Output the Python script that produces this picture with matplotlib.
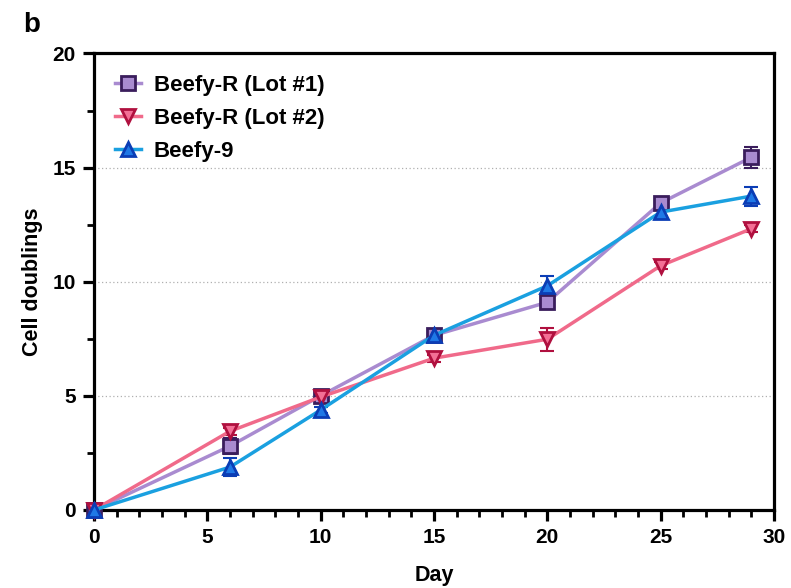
import numpy as np
import matplotlib.pyplot as plt
from matplotlib.ticker import MultipleLocator

plt.rcParams['font.family'] = ['Liberation Sans', 'DejaVu Sans']
plt.rcParams['font.weight'] = 'bold'

# dane
dni = [0, 6, 10, 15, 20, 25, 29]
lot1 = [0, 2.8, 5.0, 7.65, 9.1, 13.45, 15.45]
lot1_err = [0, 0.35, 0.1, 0.15, 0.3, 0.15, 0.45]
lot2 = [0, 3.45, 4.95, 6.65, 7.48, 10.7, 12.32]
lot2_err = [0, 0.15, 0.1, 0.15, 0.5, 0.15, 0.15]
beefy9 = [0, 1.88, 4.38, 7.65, 9.82, 13.05, 13.75]
beefy9_err = [0, 0.4, 0.15, 0.15, 0.45, 0.15, 0.42]

fig = plt.figure(figsize=(7.91, 5.88), dpi=100)
ax = fig.add_axes([0.1188, 0.1327, 0.8597, 0.7764])

serie = [
    ('Beefy-R (Lot #1)', lot1, lot1_err, 's', '#a98bd0', '#a98bd0', '#3a1d5c'),
    ('Beefy-R (Lot #2)', lot2, lot2_err, 'v', '#f06a8a', '#f36f95', '#b0103f'),
    ('Beefy-9', beefy9, beefy9_err, '^', '#1aa0e0', '#1f78e6', '#0b3db5'),
]

for nazwa, y, err, m, kolor_linii, kolor_wyp, kolor_kraw in serie:
    ax.errorbar(dni, y, yerr=err, fmt='none', ecolor=kolor_kraw,
                elinewidth=1.5, capsize=5, capthick=1.5, zorder=2, clip_on=False)
    ax.plot(dni, y, color=kolor_linii, lw=2.5, marker=m, ms=9.5,
            mfc=kolor_wyp, mec=kolor_kraw, mew=2.0, label=nazwa, zorder=3,
            clip_on=False)

ax.set_xlim(0, 30)
ax.set_ylim(0, 20)
ax.xaxis.set_major_locator(MultipleLocator(5))
ax.xaxis.set_minor_locator(MultipleLocator(1))
ax.yaxis.set_major_locator(MultipleLocator(5))
ax.yaxis.set_minor_locator(MultipleLocator(2.5))

for y in [5, 10, 15]:
    ax.axhline(y, color='#b0b0b0', lw=0.9, ls=(0, (1, 2)), zorder=1)

for s in ax.spines.values():
    s.set_linewidth(2.3)
ax.tick_params(which='major', length=8, width=2.3, labelsize=15, pad=5)
ax.tick_params(which='minor', length=5, width=2.0)

ax.set_xlabel('Day', fontsize=15.5, fontweight='bold', labelpad=13)
ax.set_ylabel('Cell doublings', fontsize=15.5, fontweight='bold', labelpad=7)

leg = ax.legend(loc='upper left', frameon=False, fontsize=16, handlelength=1.15,
                borderaxespad=0.55, labelspacing=0.55, handletextpad=0.6)

fig.text(0.029, 0.946, 'b', fontsize=20, fontweight='bold')

fig.savefig('out.png', dpi=100)
